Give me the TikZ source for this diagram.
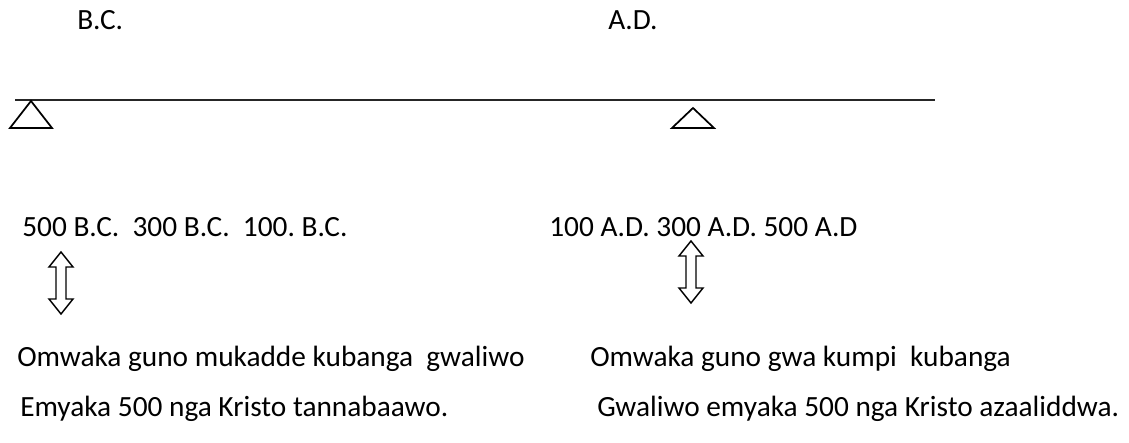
\documentclass[tikz,border=0pt]{standalone}
\usepackage{fontspec}
\setmainfont{Carlito}
\usepackage{tikz}

\begin{document}
\begin{tikzpicture}[x=0.75pt, y=-0.75pt,
    lbl/.style={anchor=base west, inner sep=0pt, font=\fontsize{22}{26}\selectfont}]
    \useasboundingbox (0,0) rectangle (1129,443);
    \frenchspacing

    % Era headings
    \node[lbl] (bc) at (77,29) {B.C.};
    \node[lbl] (ad) at (608,29) {A.D.};

    % Draw the line
    \draw[line width=1.5pt, black!85] (15,100) -- (935,100);

    % Draw the two triangles
    \foreach \tx/\ty in {31/101, 693/108}
        \draw[line width=1.3pt, line join=miter] (\tx,\ty) -- (\tx+21,128) -- (\tx-21,128) -- cycle;

    % Years on each side
    \node[lbl] (yrsbc) at (22,236) {500 B.C.\ \ 300 B.C.\ \ 100. B.C.};
    \node[lbl] (yrsad) at (549,236) {100 A.D. 300 A.D. 500 A.D};

    % Draw the hollow double arrows
    \foreach \ax/\ay in {61/283, 691/272}
        \draw[line width=1.1pt] (\ax,\ay-31) -- (\ax+12,\ay-16) -- (\ax+5,\ay-16)
            -- (\ax+5,\ay+16) -- (\ax+12,\ay+16) -- (\ax,\ay+31)
            -- (\ax-12,\ay+16) -- (\ax-5,\ay+16) -- (\ax-5,\ay-16)
            -- (\ax-12,\ay-16) -- cycle;

    % Explanations
    \node[lbl] (oldA) at (17,366) {Omwaka guno mukadde kubanga\ \ gwaliwo};
    \node[lbl] (newA) at (590,366) {Omwaka guno gwa kumpi\ \ kubanga};
    \node[lbl] (oldB) at (20,416) {Emyaka 500 nga Kristo tannabaawo.};
    \node[lbl] (newB) at (597,416) {Gwaliwo emyaka 500 nga Kristo azaaliddwa.};
\end{tikzpicture}
\end{document}
